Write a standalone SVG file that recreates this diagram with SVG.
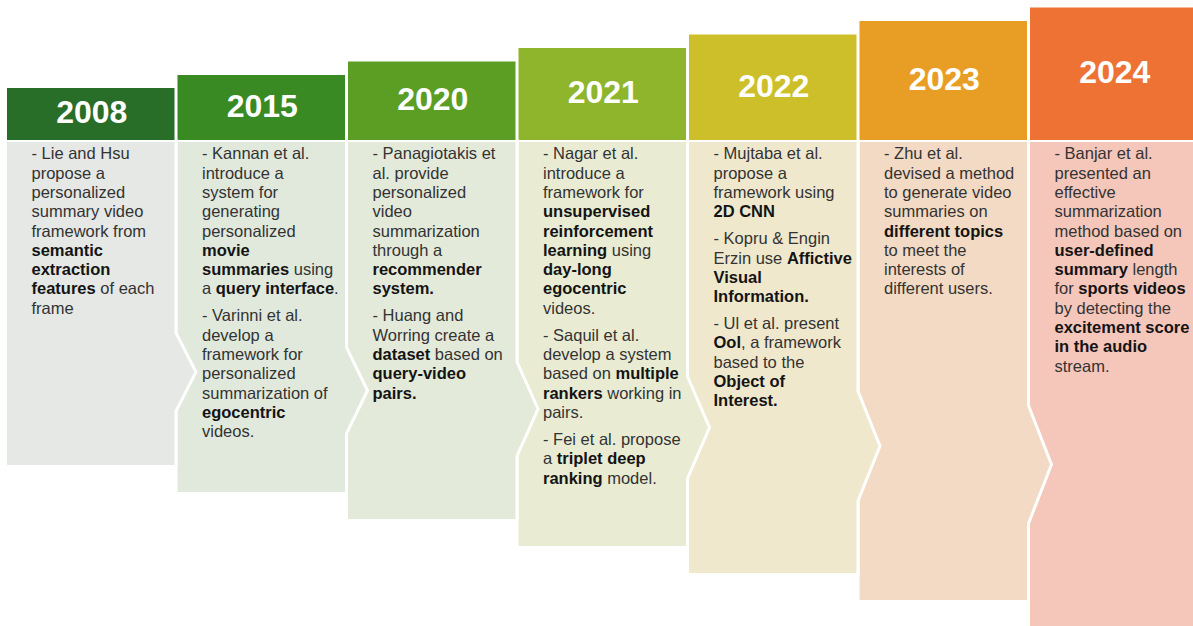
<svg xmlns="http://www.w3.org/2000/svg" width="1193" height="626" viewBox="0 0 1193 626">
  <style>
    .yr { font-family: "Liberation Sans", Arial, sans-serif; font-size: 32px; font-weight: bold; fill: #ffffff; text-anchor: middle; }
    .t { font-family: "Liberation Sans", Arial, sans-serif; font-size: 16.5px; fill: #333333; }
    .b { font-weight: bold; fill: #141414; }
    .body { stroke: #ffffff; stroke-width: 3; stroke-linejoin: miter; }
  </style>
  <rect width="1193" height="626" fill="#ffffff"/>

  <!-- columns are painted right to left so each chevron lies over the next body -->
  <g id="y2024">
    <path class="body" fill="#f5c6ba" d="M1028.5,140.5 H1200 V630 H1028.5 Z"/>
    <rect x="1030" y="7.5" width="167.5" height="132.5" fill="#ee7234"/>
    <text class="yr" x="1114.75" y="83">2024</text>
    <text class="t"><tspan x="1054.5" y="159.3">- Banjar et al.</tspan><tspan x="1054.5" y="178.6">presented an</tspan><tspan x="1054.5" y="197.9">effective</tspan><tspan x="1054.5" y="217.2">summarization</tspan><tspan x="1054.5" y="236.5">method based on</tspan><tspan x="1054.5" y="255.8" class="b">user-defined</tspan><tspan x="1054.5" y="275.1"><tspan class="b">summary</tspan> length</tspan><tspan x="1054.5" y="294.4">for <tspan class="b">sports videos</tspan></tspan><tspan x="1054.5" y="313.7">by detecting the</tspan><tspan x="1054.5" y="333" class="b">excitement score</tspan><tspan x="1054.5" y="352.3" class="b">in the audio</tspan><tspan x="1054.5" y="371.6">stream.</tspan></text>
  </g>

  <g id="y2023">
    <path class="body" fill="#f3dac4" d="M858,140.5 H1028.5 V405.5 L1051.5,464.5 L1028.5,523.5 V601.5 H858 Z"/>
    <rect x="859.5" y="21" width="167.5" height="119" fill="#e89e25"/>
    <text class="yr" x="944.25" y="89.8">2023</text>
    <text class="t"><tspan x="884" y="159.3">- Zhu et al.</tspan><tspan x="884" y="178.6">devised a method</tspan><tspan x="884" y="197.9">to generate video</tspan><tspan x="884" y="217.2">summaries on</tspan><tspan x="884" y="236.5" class="b">different topics</tspan><tspan x="884" y="255.8">to meet the</tspan><tspan x="884" y="275.1">interests of</tspan><tspan x="884" y="294.4">different users.</tspan></text>
  </g>

  <g id="y2022">
    <path class="body" fill="#f0e8cd" d="M687.5,140.5 H858 V391 L880,446 L858,501 V574.5 H687.5 Z"/>
    <rect x="689" y="34.5" width="167.5" height="105.5" fill="#cdbf29"/>
    <text class="yr" x="773.75" y="96.55">2022</text>
    <text class="t"><tspan x="713.5" y="159.3">- Mujtaba et al.</tspan><tspan x="713.5" y="178.6">propose a</tspan><tspan x="713.5" y="197.9">framework using</tspan><tspan x="713.5" y="217.2" class="b">2D CNN</tspan><tspan x="713.5" y="244.2">- Kopru &amp; Engin</tspan><tspan x="713.5" y="263.5">Erzin use <tspan class="b">Affictive</tspan></tspan><tspan x="713.5" y="282.8" class="b">Visual</tspan><tspan x="713.5" y="302.1" class="b">Information.</tspan><tspan x="713.5" y="329.1">- Ul et al. present</tspan><tspan x="713.5" y="348.4"><tspan class="b">Ool</tspan>, a framework</tspan><tspan x="713.5" y="367.7">based to the</tspan><tspan x="713.5" y="387" class="b">Object of</tspan><tspan x="713.5" y="406.3" class="b">Interest.</tspan></text>
  </g>

  <g id="y2021">
    <path class="body" fill="#e9ecd3" d="M517,140.5 H687.5 V376.5 L709.5,427.5 L687.5,478.5 V547.5 H517 Z"/>
    <rect x="518.5" y="48" width="167.5" height="92" fill="#8fb52c"/>
    <text class="yr" x="603.25" y="103.3">2021</text>
    <text class="t"><tspan x="543" y="159.3">- Nagar et al.</tspan><tspan x="543" y="178.6">introduce a</tspan><tspan x="543" y="197.9">framework for</tspan><tspan x="543" y="217.2" class="b">unsupervised</tspan><tspan x="543" y="236.5" class="b">reinforcement</tspan><tspan x="543" y="255.8"><tspan class="b">learning</tspan> using</tspan><tspan x="543" y="275.1" class="b">day-long</tspan><tspan x="543" y="294.4" class="b">egocentric</tspan><tspan x="543" y="313.7">videos.</tspan><tspan x="543" y="340.7">- Saquil et al.</tspan><tspan x="543" y="360">develop a system</tspan><tspan x="543" y="379.3">based on <tspan class="b">multiple</tspan></tspan><tspan x="543" y="398.6"><tspan class="b">rankers</tspan> working in</tspan><tspan x="543" y="417.9">pairs.</tspan><tspan x="543" y="444.9">- Fei et al. propose</tspan><tspan x="543" y="464.2">a <tspan class="b">triplet deep</tspan></tspan><tspan x="543" y="483.5"><tspan class="b">ranking</tspan> model.</tspan></text>
  </g>

  <g id="y2020">
    <path class="body" fill="#e4eada" d="M346.5,140.5 H517 V362 L538,409 L517,456 V520.5 H346.5 Z"/>
    <rect x="348" y="61.5" width="167.5" height="78.5" fill="#5c9d24"/>
    <text class="yr" x="432.75" y="110.05">2020</text>
    <text class="t"><tspan x="372.5" y="159.3">- Panagiotakis et</tspan><tspan x="372.5" y="178.6">al. provide</tspan><tspan x="372.5" y="197.9">personalized</tspan><tspan x="372.5" y="217.2">video</tspan><tspan x="372.5" y="236.5">summarization</tspan><tspan x="372.5" y="255.8">through a</tspan><tspan x="372.5" y="275.1" class="b">recommender</tspan><tspan x="372.5" y="294.4" class="b">system.</tspan><tspan x="372.5" y="321.4">- Huang and</tspan><tspan x="372.5" y="340.7">Worring create a</tspan><tspan x="372.5" y="360"><tspan class="b">dataset</tspan> based on</tspan><tspan x="372.5" y="379.3" class="b">query-video</tspan><tspan x="372.5" y="398.6" class="b">pairs.</tspan></text>
  </g>

  <g id="y2015">
    <path class="body" fill="#e1e9dd" d="M176,140.5 H346.5 V347.5 L367.5,390.5 L346.5,433.5 V493.5 H176 Z"/>
    <rect x="177.5" y="75" width="167.5" height="65" fill="#3a8a24"/>
    <text class="yr" x="262.25" y="116.8">2015</text>
    <text class="t"><tspan x="202" y="159.3">- Kannan et al.</tspan><tspan x="202" y="178.6">introduce a</tspan><tspan x="202" y="197.9">system for</tspan><tspan x="202" y="217.2">generating</tspan><tspan x="202" y="236.5">personalized</tspan><tspan x="202" y="255.8" class="b">movie</tspan><tspan x="202" y="275.1"><tspan class="b">summaries</tspan> using</tspan><tspan x="202" y="294.4">a <tspan class="b">query interface</tspan>.</tspan><tspan x="202" y="321.4">- Varinni et al.</tspan><tspan x="202" y="340.7">develop a</tspan><tspan x="202" y="360">framework for</tspan><tspan x="202" y="379.3">personalized</tspan><tspan x="202" y="398.6">summarization of</tspan><tspan x="202" y="417.9" class="b">egocentric</tspan><tspan x="202" y="437.2">videos.</tspan></text>
  </g>

  <g id="y2008">
    <path class="body" fill="#e5e8e5" d="M5.5,140.5 H176 V333 L196,372 L176,411 V466.5 H5.5 Z"/>
    <rect x="7" y="88" width="167.5" height="52" fill="#286d28"/>
    <text class="yr" x="91.75" y="123.3">2008</text>
    <text class="t"><tspan x="31.5" y="159.3">- Lie and Hsu</tspan><tspan x="31.5" y="178.6">propose a</tspan><tspan x="31.5" y="197.9">personalized</tspan><tspan x="31.5" y="217.2">summary video</tspan><tspan x="31.5" y="236.5">framework from</tspan><tspan x="31.5" y="255.8" class="b">semantic</tspan><tspan x="31.5" y="275.1" class="b">extraction</tspan><tspan x="31.5" y="294.4"><tspan class="b">features</tspan> of each</tspan><tspan x="31.5" y="313.7">frame</tspan></text>
  </g>

  <!-- the timeline has no separate connectors; the chevrons above link each year to the next -->
  <g id="connectors"/>
</svg>
